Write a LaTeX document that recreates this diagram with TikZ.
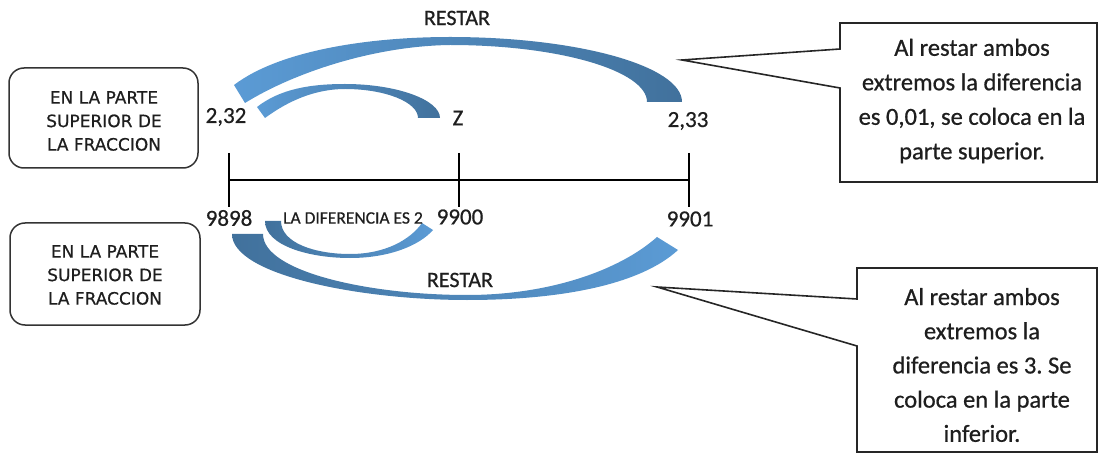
\documentclass[tikz,border=0pt]{standalone}
\usepackage{fontspec}
\setmainfont{Carlito}[FakeBold=0.7]
\newfontfamily\boxfont{DejaVu Sans}[FakeBold=0.5]
\definecolor{lightb}{HTML}{5B9BD5}
\definecolor{darkb}{HTML}{41719C}
\definecolor{txt}{HTML}{1E1E1E}
\frenchspacing
\begin{document}
\begin{tikzpicture}[x=1pt,y=-1pt,
  lbl/.style={inner sep=0pt,text=txt,font=\fontsize{23}{27}\selectfont},
  calltxt/.style={inner sep=0pt,text=txt,align=center,font=\fontsize{24.5}{34.5}\selectfont},
  leftbox/.style={draw=black!80,line width=1.5pt,rounded corners=15pt},
  boxtxt/.style={inner sep=0pt,text=txt,align=center,font=\boxfont\fontsize{17}{23.5}\selectfont},
  callout/.style={draw=black!85,line width=1.6pt,line join=miter},
  numline/.style={line width=2.8pt,black},
  uparc/.style={left color=lightb,right color=darkb,draw=none},
  downarc/.style={left color=darkb,right color=lightb,draw=none}]
\useasboundingbox (0,0) rectangle (1099,454);

% arcs above
\path[uparc] (234,85) .. controls (280,50) and (370,37) .. (450,37)
  .. controls (578,37) and (682,66) .. (682,102) -- (647,102)
  .. controls (647,71) and (560,45) .. (450,45)
  .. controls (375,46) and (295,72) .. (245,103) -- cycle;
\path[uparc] (257,107) .. controls (280,89) and (310,84) .. (345,84)
  .. controls (397,84) and (440,100) .. (440,118) -- (418,118)
  .. controls (418,102) and (385,89) .. (345,89)
  .. controls (315,89) and (288,101) .. (265,118) -- cycle;
% arcs below
\path[downarc] (232,234) .. controls (232,275) and (360,300) .. (467,300)
  .. controls (560,300) and (640,285) .. (678,250) -- (657,237)
  .. controls (620,270) and (550,295) .. (467,295)
  .. controls (370,295) and (263,272) .. (263,234) -- cycle;
\path[downarc] (265,221) .. controls (265,246) and (310,258) .. (350,258)
  .. controls (390,258) and (420,245) .. (433,230) -- (422,223)
  .. controls (410,240) and (385,254) .. (350,254)
  .. controls (315,254) and (281,243) .. (281,221) -- cycle;

% number line
\coordinate (nlA) at (229,180);
\coordinate (nlB) at (459,180);
\coordinate (nlC) at (689,180);
\coordinate (tA1) at (229,153); \coordinate (tA2) at (229,207);
\coordinate (tB1) at (459,153); \coordinate (tB2) at (459,207);
\coordinate (tC1) at (689,153); \coordinate (tC2) at (689,207);
\draw[numline] (nlA) -- (nlC);
\draw[numline] (tA1) -- (tA2);
\draw[numline] (tB1) -- (tB2);
\draw[numline] (tC1) -- (tC2);

% labels
\node[lbl] (a232) at (226,117) {2,32};
\node[lbl] (z) at (458,118) {Z};
\node[lbl] (a233) at (688,121) {2,33};
\node[lbl] (n9898) at (229,218) {9898};
\node[lbl] (n9900) at (460,217) {9900};
\node[lbl] (n9901) at (690,219) {9901};
\node[lbl,font=\fontsize{22}{26}\selectfont] (rtop) at (457,18) {RESTAR};
\node[lbl,font=\fontsize{22}{26}\selectfont] (rbot) at (460,280) {RESTAR};
\node[inner sep=0pt,text=txt,font=\fontsize{17.5}{20}\selectfont] (dif) at (353,218) {LA DIFERENCIA ES 2};

% left boxes
\draw[leftbox] (9,68) rectangle (198,168);
\node[boxtxt] (b1) at (104,121) {EN LA PARTE\\SUPERIOR DE\\LA FRACCION};
\draw[leftbox] (10,223) rectangle (200,325);
\node[boxtxt] (b2) at (105,275) {EN LA PARTE\\SUPERIOR DE\\LA FRACCION};

% callouts
\coordinate (tip1) at (682,60);
\coordinate (tip2) at (657,287);
\draw[callout] (840,23) -- (1097,23) -- (1097,182) -- (840,182) -- (840,88) -- (tip1) -- (840,49) -- cycle;
\node[calltxt] (c1) at (972,101) {Al restar ambos\\extremos la diferencia\\es 0,01, se coloca en la\\parte superior.};
\draw[callout] (857,268) -- (1097,268) -- (1097,452) -- (857,452) -- (857,346) -- (tip2) -- (857,299) -- cycle;
\node[calltxt,font=\fontsize{24.5}{34.2}\selectfont] (c2) at (982,365) {Al restar ambos\\extremos la\\diferencia es 3. Se\\coloca en la parte\\inferior.};
\end{tikzpicture}
\end{document}
